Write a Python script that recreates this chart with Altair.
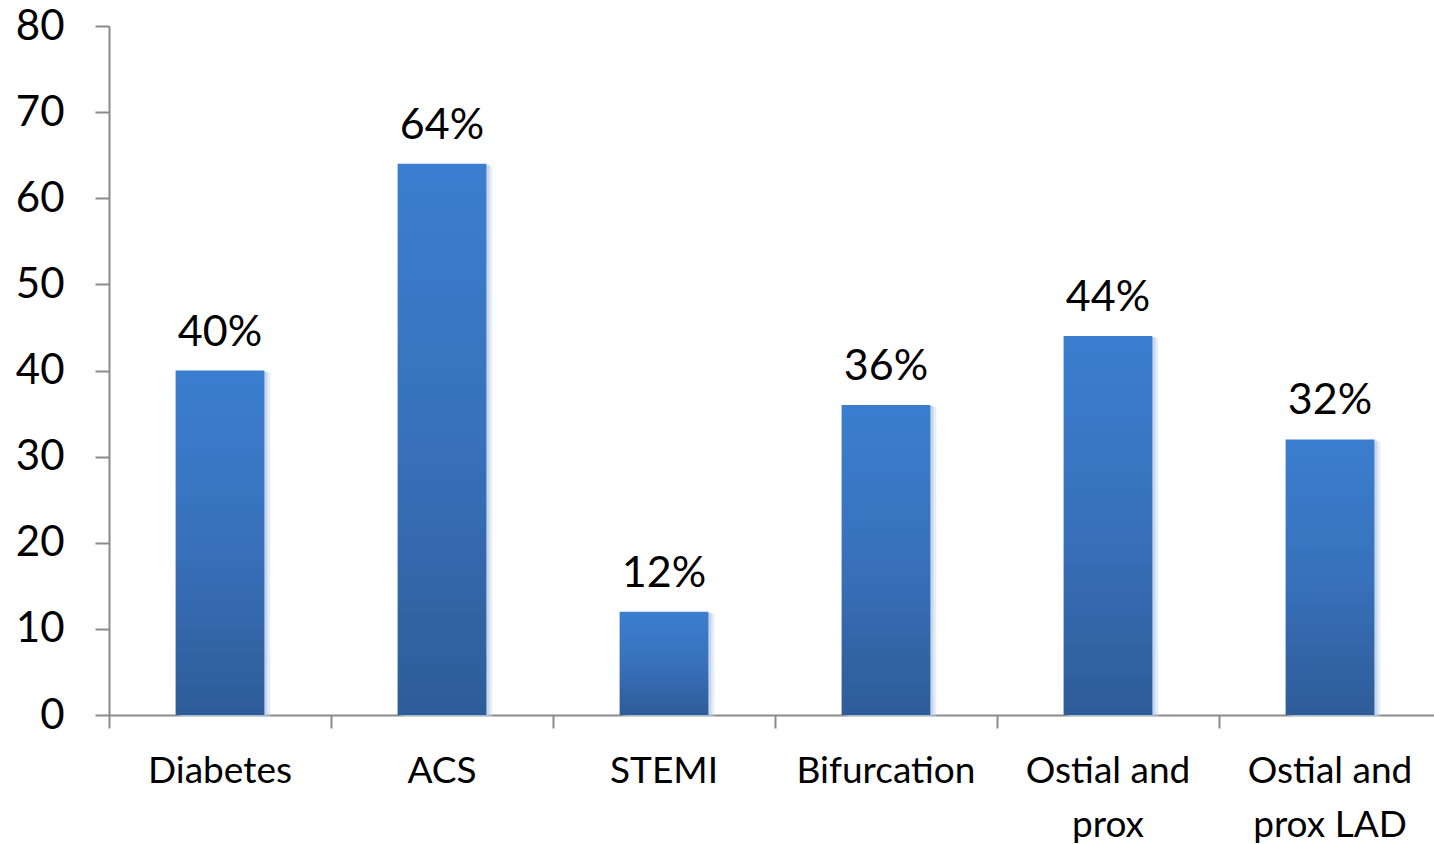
import altair as alt
import pandas as pd

# Share of patients with each characteristic (%)
categories = ["Diabetes", "ACS", "STEMI", "Bifurcation", "Ostial and prox", "Ostial and prox LAD"]
values = [40, 64, 12, 36, 44, 32]
value_labels = ["40%", "64%", "12%", "36%", "44%", "32%"]

df = pd.DataFrame({"category": categories, "value": values, "label": value_labels})

FONT = "Lato"
AXIS_GREY = "#8a8a8a"

x_enc = alt.X(
    "category:N",
    sort=categories,
    scale=alt.Scale(paddingInner=0, paddingOuter=0, range=[0, 1332]),
    axis=alt.Axis(
        title=None,
        labelAngle=0,
        labelFont=FONT,
        labelFontSize=37,
        labelColor="#000000",
        labelPadding=25,
        labelLineHeight=54,
        labelBaseline="top",
        labelExpr="indexof(datum.label, 'and ') > 0 ? [substring(datum.label, 0, indexof(datum.label, 'and ') + 3), substring(datum.label, indexof(datum.label, 'and ') + 4)] : datum.label",
        bandPosition=0,
        tickSize=13,
        tickColor=AXIS_GREY,
        tickWidth=2,
        domainColor=AXIS_GREY,
        domainWidth=2,
        grid=False,
    ),
)

y_enc = alt.Y(
    "value:Q",
    scale=alt.Scale(domain=[0, 80], nice=False),
    axis=alt.Axis(
        title=None,
        values=[0, 10, 20, 30, 40, 50, 60, 70, 80],
        labelFont=FONT,
        labelFontSize=42,
        labelColor="#000000",
        labelPadding=31,
        tickSize=14,
        tickColor=AXIS_GREY,
        tickWidth=2,
        domainColor=AXIS_GREY,
        domainWidth=2,
        grid=False,
    ),
)

base = alt.Chart(df).encode(x=x_enc, y=y_enc)

# soft drop shadow to the right of each bar
shadow_far = base.mark_bar(
    width={"band": 0.4}, xOffset=6, yOffset=2, color="#c9d8ee", opacity=0.45
)
shadow_near = base.mark_bar(
    width={"band": 0.4}, xOffset=3, yOffset=1, color="#a9c2e6", opacity=0.55
)

bars = base.mark_bar(
    width={"band": 0.4},
    color=alt.Gradient(
        gradient="linear",
        stops=[
            alt.GradientStop(color="#3b7ecf", offset=0),
            alt.GradientStop(color="#3871bb", offset=0.5),
            alt.GradientStop(color="#2e5c98", offset=1),
        ],
        x1=0, x2=0, y1=0, y2=1,
    ),
)

text = base.mark_text(
    font=FONT, fontSize=43, color="#000000", baseline="alphabetic", dy=-25
).encode(text="label:N")

chart = (
    alt.layer(shadow_far, shadow_near, bars, text)
    .properties(
        width=1325,
        height=689,
        autosize=alt.AutoSizeParams(type="none"),
        padding={"left": 109, "top": 26, "right": 0, "bottom": 129},
        background="#ffffff",
    )
    .configure_view(strokeWidth=0)
)

chart.save("out.html", embed_options={"renderer": "svg", "actions": False})
